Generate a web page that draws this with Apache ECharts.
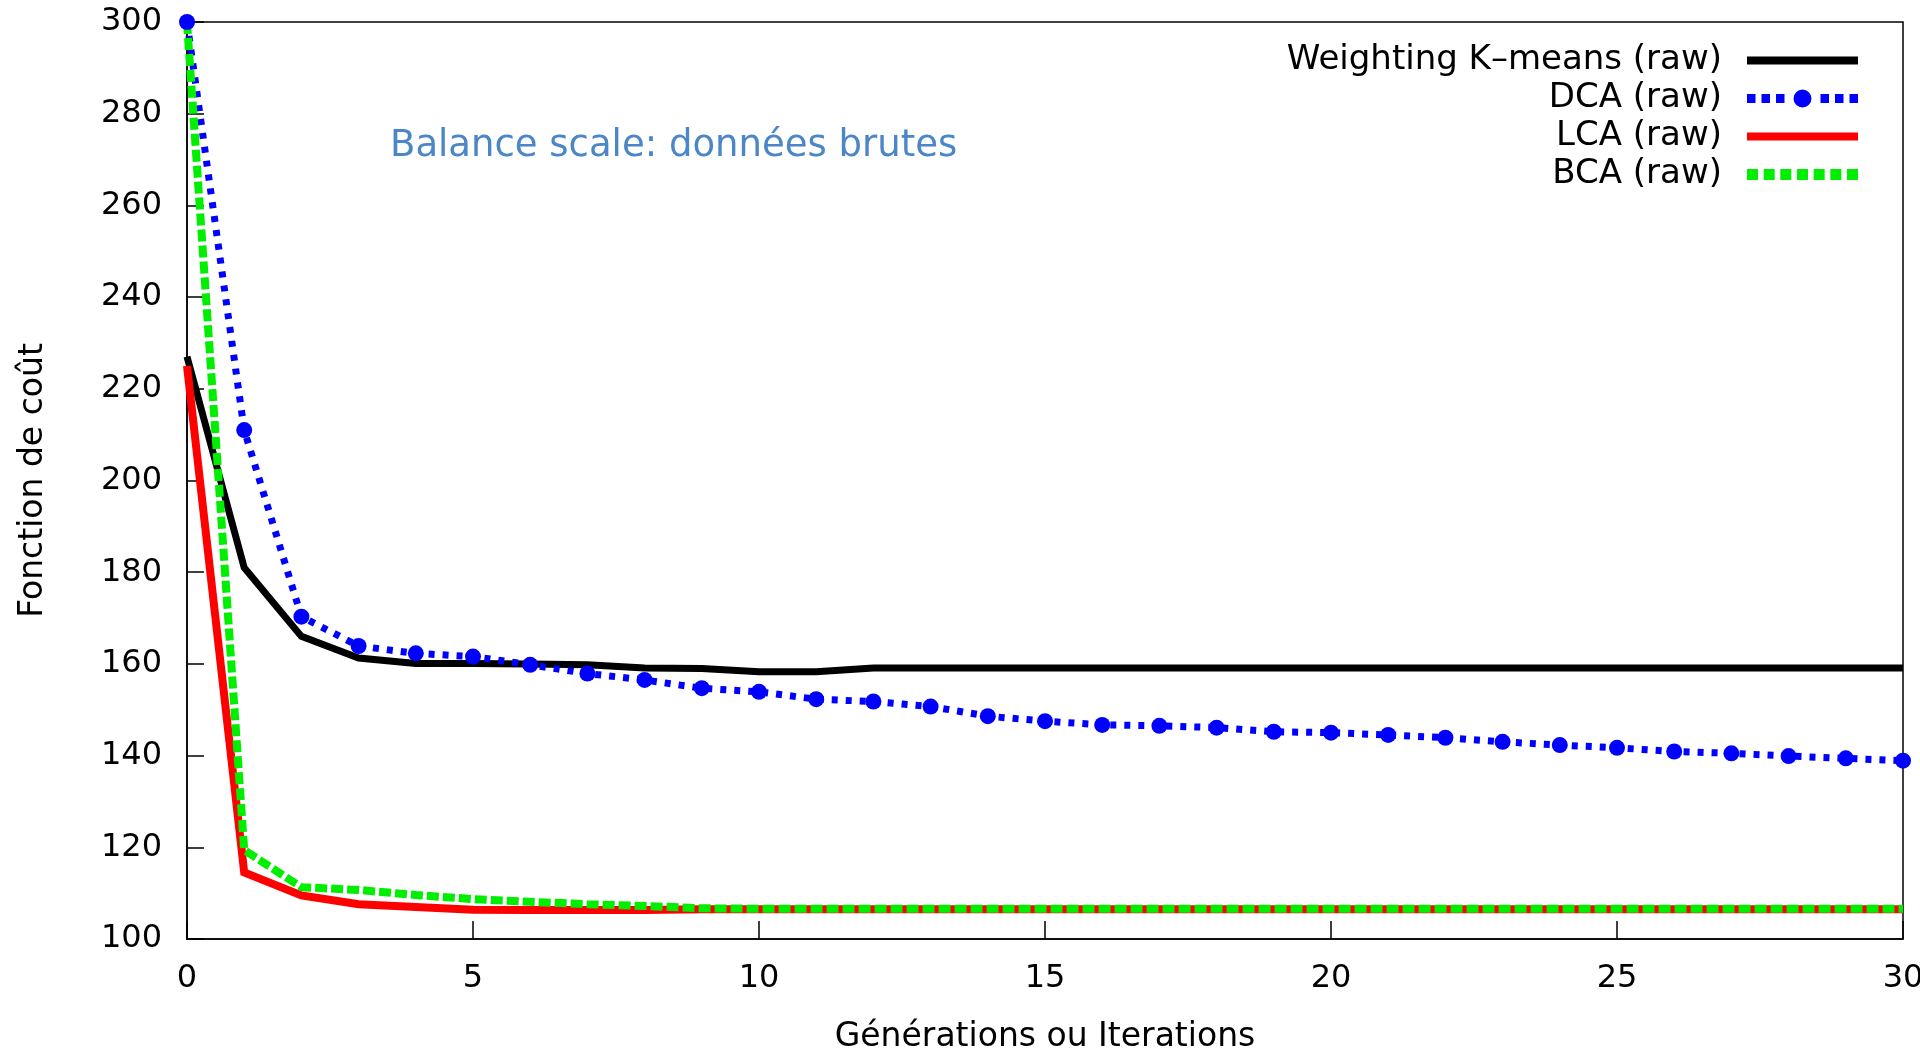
<!DOCTYPE html>
<html>
<head>
<meta charset="utf-8">
<script src="https://cdn.jsdelivr.net/npm/echarts@6/dist/echarts.min.js"></script>
<style>
html,body{margin:0;padding:0;background:#fff;overflow:hidden;}
#chart{width:1920px;height:1048px;}
</style>
</head>
<body>
<div id="chart"></div>
<script>
const iterations = [0,1,2,3,4,5,6,7,8,9,10,11,12,13,14,15,16,17,18,19,20,21,22,23,24,25,26,27,28,29,30];
const kmeansRaw = [227,181,166,161.3,160.1,160.1,160.0,159.8,159.1,159.0,158.3,158.3,159.1,159.1,159.1,159.1,159.1,159.1,159.1,159.1,159.1,159.1,159.1,159.1,159.1,159.1,159.1,159.1,159.1,159.1,159.1];
const dcaRaw = [300,211,170.3,163.9,162.3,161.6,159.8,157.9,156.5,154.7,153.9,152.3,151.8,150.7,148.6,147.5,146.7,146.5,146.1,145.2,145.0,144.5,143.9,143.0,142.3,141.7,140.9,140.5,139.9,139.4,138.9];
const lcaRaw = [225,114.5,109.5,107.6,107.0,106.4,106.3,106.3,106.3,106.5,106.5,106.5,106.5,106.5,106.5,106.5,106.5,106.5,106.5,106.5,106.5,106.5,106.5,106.5,106.5,106.5,106.5,106.5,106.5,106.5,106.5];
const bcaRaw = [300,119.4,111.3,110.7,109.6,108.7,108.1,107.6,107.2,106.7,106.6,106.6,106.6,106.6,106.6,106.6,106.6,106.6,106.6,106.6,106.6,106.6,106.6,106.6,106.6,106.6,106.6,106.6,106.6,106.6,106.6];
const seriesNames = ['Weighting K\u2013means (raw)','DCA (raw)','LCA (raw)','BCA (raw)'];
const chartTitle = 'Balance scale: donn\u00e9es brutes';
const xAxisTitle = 'G\u00e9n\u00e9rations ou Iterations';
const yAxisTitle = 'Fonction de co\u00fbt';

const pairs = ys => iterations.map((x, i) => [x, ys[i]]);
const FONT = 'DejaVu Sans';
const COLORS = ['#000000', '#0000ff', '#ff0000', '#00ee00'];

// legend sample shapes (gnuplot-style key samples)
const solidIcon = 'path://M0,0H111V8H0Z';
const dcaIcon = 'path://M0,4.5H8.5V13.5H0Z M14.5,4.5H23V13.5H14.5Z M29,4.5H37.5V13.5H29Z ' +
  'M46.5,9A9,9 0 1,0 64.5,9A9,9 0 1,0 46.5,9Z ' +
  'M73.5,4.5H82V13.5H73.5Z M88,4.5H96.5V13.5H88Z M102.5,4.5H111V13.5H102.5Z';
let bcaPath = 'path://';
for (let k = 0; k < 7; k++) {
  const x0 = k * 16.667;
  bcaPath += 'M' + x0.toFixed(2) + ',0H' + (x0 + 11).toFixed(2) + 'V11H' + x0.toFixed(2) + 'Z ';
}
const legendIcons = [solidIcon, dcaIcon, solidIcon, bcaPath];

const chart = echarts.init(document.getElementById('chart'), null, {renderer: 'canvas'});
chart.setOption({
  animation: false,
  backgroundColor: '#ffffff',
  title: {
    text: chartTitle,
    left: 390,
    top: 128,
    padding: 0,
    textStyle: {color: '#4a86c8', fontSize: 37, fontFamily: FONT, fontWeight: 'normal'}
  },
  grid: {
    left: 187, right: 17, top: 22, bottom: 109,
    outerBoundsMode: 'none',
    containLabel: false,
    show: true, borderColor: '#000', borderWidth: 1.5, backgroundColor: 'transparent'
  },
  legend: {
    orient: 'vertical',
    right: 62,
    top: 43,
    padding: 0,
    align: 'right',
    itemWidth: 111,
    itemHeight: 18,
    itemGap: 3,
    symbolKeepAspect: true,
    textStyle: {fontFamily: FONT, fontSize: 34, color: '#000', lineHeight: 35, padding: [0, 20, 0, 0]},
    data: seriesNames.map((n, i) => ({
      name: n,
      icon: legendIcons[i],
      itemStyle: {color: COLORS[i], borderWidth: 0}
    }))
  },
  xAxis: {
    type: 'value', min: 0, max: 30, interval: 5,
    name: xAxisTitle, nameLocation: 'middle', nameGap: 82,
    nameTextStyle: {fontFamily: FONT, fontSize: 33, color: '#000'},
    axisLine: {show: true, lineStyle: {color: '#000', width: 1.5}},
    axisTick: {show: true, inside: true, length: 18, lineStyle: {color: '#000', width: 1.5}},
    axisLabel: {fontFamily: FONT, fontSize: 32, color: '#000', margin: 24},
    splitLine: {show: false}
  },
  yAxis: {
    type: 'value', min: 100, max: 300, interval: 20,
    name: yAxisTitle, nameLocation: 'middle', nameGap: 137, nameRotate: 90,
    nameTextStyle: {fontFamily: FONT, fontSize: 33, color: '#000'},
    axisLine: {show: true, lineStyle: {color: '#000', width: 1.5}},
    axisTick: {show: true, inside: true, length: 17, lineStyle: {color: '#000', width: 1.5}},
    axisLabel: {fontFamily: FONT, fontSize: 32, color: '#000', margin: 25},
    splitLine: {show: false}
  },
  series: [
    {
      name: seriesNames[0], type: 'line', data: pairs(kmeansRaw),
      symbol: 'none', color: COLORS[0],
      lineStyle: {color: COLORS[0], width: 7, cap: 'butt', join: 'miter'}
    },
    {
      name: seriesNames[1], type: 'line', data: pairs(dcaRaw),
      symbol: 'circle', symbolSize: 16, color: COLORS[1],
      itemStyle: {color: COLORS[1]},
      lineStyle: {color: COLORS[1], width: 7, type: [6, 8], cap: 'butt'}
    },
    {
      name: seriesNames[2], type: 'line', data: pairs(lcaRaw),
      symbol: 'none', color: COLORS[2],
      lineStyle: {color: COLORS[2], width: 8, cap: 'butt', join: 'miter'}
    },
    {
      name: seriesNames[3], type: 'line', data: pairs(bcaRaw),
      symbol: 'none', color: COLORS[3],
      lineStyle: {color: COLORS[3], width: 8, type: [12, 4], cap: 'butt'}
    }
  ]
});
</script>
</body>
</html>
